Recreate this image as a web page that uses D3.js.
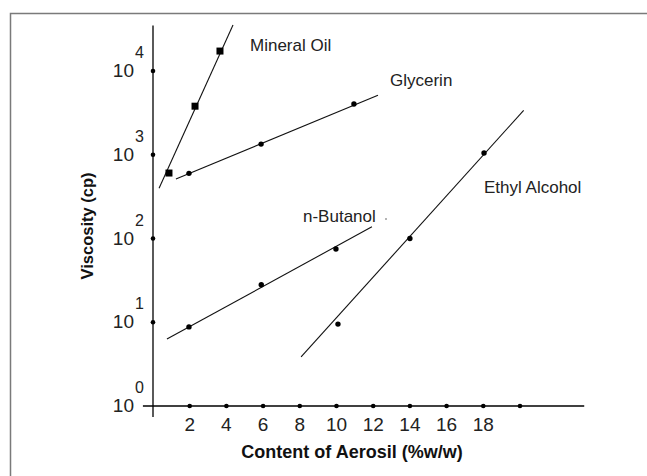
<!DOCTYPE html>
<html lang="en">
<head>
<meta charset="UTF-8">
<title>Viscosity vs Aerosil content</title>
<script src="https://cdn.jsdelivr.net/npm/d3@7"></script>
<style>
  body { margin: 0; background: #fff; }
  text { font-family: Arial, "Liberation Sans", sans-serif; }
</style>
<script>
// data (x = % w/w, y = viscosity in cp)
var xTicks = [2, 4, 6, 8, 10, 12, 14, 16, 18];
var xDots = [2, 4, 6, 8, 10, 12, 14, 16, 18, 20];
var yTicks = [1, 10, 100, 1000, 10000];
var yExp = ["0", "1", "2", "3", "4"];

var seriesNames = ["Mineral Oil", "Glycerin", "n-Butanol", "Ethyl Alcohol"];
var mineralPts = [[0.87, 605], [2.29, 3800], [3.65, 17300]];
var glycerinPts = [[1.96, 600], [5.89, 1340], [10.95, 4030]];
var butanolPts = [[1.96, 8.8], [5.9, 28], [9.97, 75]];
var ethylPts = [[10.08, 9.5], [14.0, 100], [18.04, 1050]];

// ends of the fitted lines
var mineralLine = [[0.33, 398], [4.36, 35500]];
var glycerinLine = [[1.25, 513], [12.26, 5130]];
var butanolLine = [[0.76, 6.3], [11.93, 138]];
var ethylLine = [[8.07, 3.85], [20.2, 3390]];

function draw() {
  var W = 647, H = 476;
  var svg = d3.select("body").append("svg")
      .attr("width", W).attr("height", H);

  // frame
  svg.append("rect")
     .attr("x", 10.5).attr("y", 13.5)
     .attr("width", 700).attr("height", 500)
     .attr("fill", "none").attr("stroke", "#7a7a7a").attr("stroke-width", 1.5);

  var x = d3.scaleLinear().domain([0, 20]).range([153, 520]);
  var y = d3.scaleLog().domain([1, 10000]).range([406, 71]);

  // axis lines
  svg.append("line")
     .attr("x1", x(0)).attr("x2", x(0))
     .attr("y1", y(35000)).attr("y2", y(0.74))
     .attr("stroke", "#000").attr("stroke-width", 1.3);
  svg.append("line")
     .attr("x1", x(-0.55)).attr("x2", x(23.5))
     .attr("y1", y(1)).attr("y2", y(1))
     .attr("stroke", "#000").attr("stroke-width", 1.3);

  // tick dots
  svg.selectAll(".xd").data(xDots).enter().append("circle")
     .attr("cx", function(d) { return x(d); }).attr("cy", y(1))
     .attr("r", 2.3).attr("fill", "#000");
  svg.selectAll(".yd").data(yTicks.slice(1)).enter().append("circle")
     .attr("cx", x(0)).attr("cy", function(d) { return y(d); })
     .attr("r", 2.3).attr("fill", "#000");

  // x tick labels
  svg.selectAll(".xl").data(xTicks).enter().append("text")
     .attr("x", function(d) { return x(d); }).attr("y", 431)
     .attr("text-anchor", "middle").attr("font-size", 19).attr("fill", "#222")
     .text(function(d) { return d; });

  // y tick labels 10^n
  yTicks.forEach(function(v, i) {
    svg.append("text")
       .attr("x", 134).attr("y", y(v) + 6)
       .attr("text-anchor", "end").attr("font-size", 19).attr("fill", "#222")
       .text("10");
    svg.append("text")
       .attr("x", 135).attr("y", y(v) - 13)
       .attr("font-size", 16).attr("fill", "#222")
       .text(yExp[i]);
  });

  // axis titles
  svg.append("text")
     .attr("x", 352).attr("y", 458)
     .attr("text-anchor", "middle").attr("font-size", 18).attr("font-weight", "bold")
     .attr("fill", "#111")
     .text("Content of Aerosil (%w/w)");
  svg.append("text")
     .attr("transform", "translate(93,226) rotate(-90)")
     .attr("text-anchor", "middle").attr("font-size", 16.5).attr("font-weight", "bold")
     .attr("fill", "#111")
     .text("Viscosity (cp)");

  var line = d3.line()
      .x(function(d) { return x(d[0]); })
      .y(function(d) { return y(d[1]); });

  [mineralLine, glycerinLine, butanolLine, ethylLine].forEach(function(l) {
    svg.append("path").datum(l).attr("d", line)
       .attr("fill", "none").attr("stroke", "#111").attr("stroke-width", 1.1);
  });

  // points
  svg.selectAll(".mo").data(mineralPts).enter().append("rect")
     .attr("x", function(d) { return x(d[0]) - 3.5; })
     .attr("y", function(d) { return y(d[1]) - 3.5; })
     .attr("width", 7).attr("height", 7).attr("fill", "#000");
  [glycerinPts, butanolPts, ethylPts].forEach(function(pts) {
    svg.selectAll(null).data(pts).enter().append("circle")
       .attr("cx", function(d) { return x(d[0]); })
       .attr("cy", function(d) { return y(d[1]); })
       .attr("r", 2.7).attr("fill", "#000");
  });

  // series labels
  var labelPos = [[250, 51], [390, 86], [303, 222], [484, 193]];
  seriesNames.forEach(function(n, i) {
    svg.append("text")
       .attr("x", labelPos[i][0]).attr("y", labelPos[i][1])
       .attr("font-size", 17).attr("fill", "#222")
       .text(n);
  });
  svg.append("circle").attr("cx", 386).attr("cy", 219).attr("r", 0.8).attr("fill", "#555");
}
</script>
</head>
<body onload="draw()">
</body>
</html>
